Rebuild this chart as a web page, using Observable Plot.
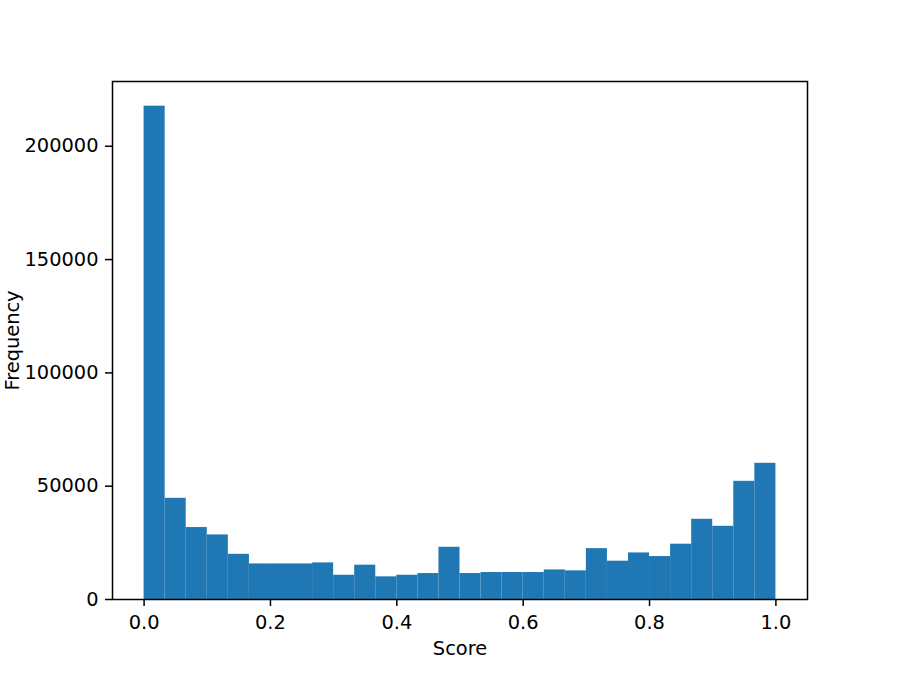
<!DOCTYPE html>
<html>
<head>
<meta charset="utf-8">
<script src="https://cdn.jsdelivr.net/npm/d3@7"></script>
<script src="https://cdn.jsdelivr.net/npm/@observablehq/plot@0.6"></script>
<style>
  html, body { margin: 0; padding: 0; background: #fff; }
</style>
</head>
<body>
<div id="chart"></div>
<script>
// Histogram of Score: 30 equal bins over [0, 1]
const binEdges = [0, 1/30, 2/30, 3/30, 4/30, 5/30, 6/30, 7/30, 8/30, 9/30, 10/30,
  11/30, 12/30, 13/30, 14/30, 15/30, 16/30, 17/30, 18/30, 19/30, 20/30,
  21/30, 22/30, 23/30, 24/30, 25/30, 26/30, 27/30, 28/30, 29/30, 1];
const counts = [217700, 44650, 31750, 28500, 19950, 15700, 15700, 15700, 16150, 10700,
  15150, 10000, 10700, 11450, 23050, 11450, 11900, 11900, 11900, 13050,
  12650, 22450, 16900, 20550, 18950, 24400, 35400, 32300, 52150, 60100];
const xTicks = [0, 0.2, 0.4, 0.6, 0.8, 1.0];
const yTicks = [0, 50000, 100000, 150000, 200000];
const xLabel = "Score";
const yLabel = "Frequency";

const bins = counts.map((c, i) => ({x1: binEdges[i], x2: binEdges[i + 1], count: c}));
const yMax = d3.max(counts) * 1.05;

const chart = Plot.plot({
  width: 897,
  height: 673,
  marginLeft: 112,
  marginRight: 90,
  marginTop: 81,
  marginBottom: 74,
  style: {fontFamily: "DejaVu Sans", fontSize: "19.4px", color: "#000", background: "#fff"},
  x: {domain: [-0.05, 1.05]},
  y: {domain: [0, yMax]},
  marks: [
    Plot.rectY(bins, {x1: "x1", x2: "x2", y: "count", fill: "#1f77b4", inset: 0}),
    Plot.axisX({
      ticks: xTicks, tickFormat: d3.format(".1f"), tickSize: 7, tickPadding: 9,
      strokeWidth: 1.5, stroke: "#000",
      label: xLabel, labelAnchor: "center", labelArrow: "none", labelOffset: 55
    }),
    Plot.axisY({
      ticks: yTicks, tickFormat: d3.format("d"), tickSize: 7, tickPadding: 7,
      strokeWidth: 1.5, stroke: "#000",
      label: yLabel, labelAnchor: "center", labelArrow: "none", labelOffset: 107
    }),
    Plot.frame({stroke: "#000", strokeWidth: 1.5})
  ]
});
document.getElementById("chart").appendChild(chart);
</script>
</body>
</html>
